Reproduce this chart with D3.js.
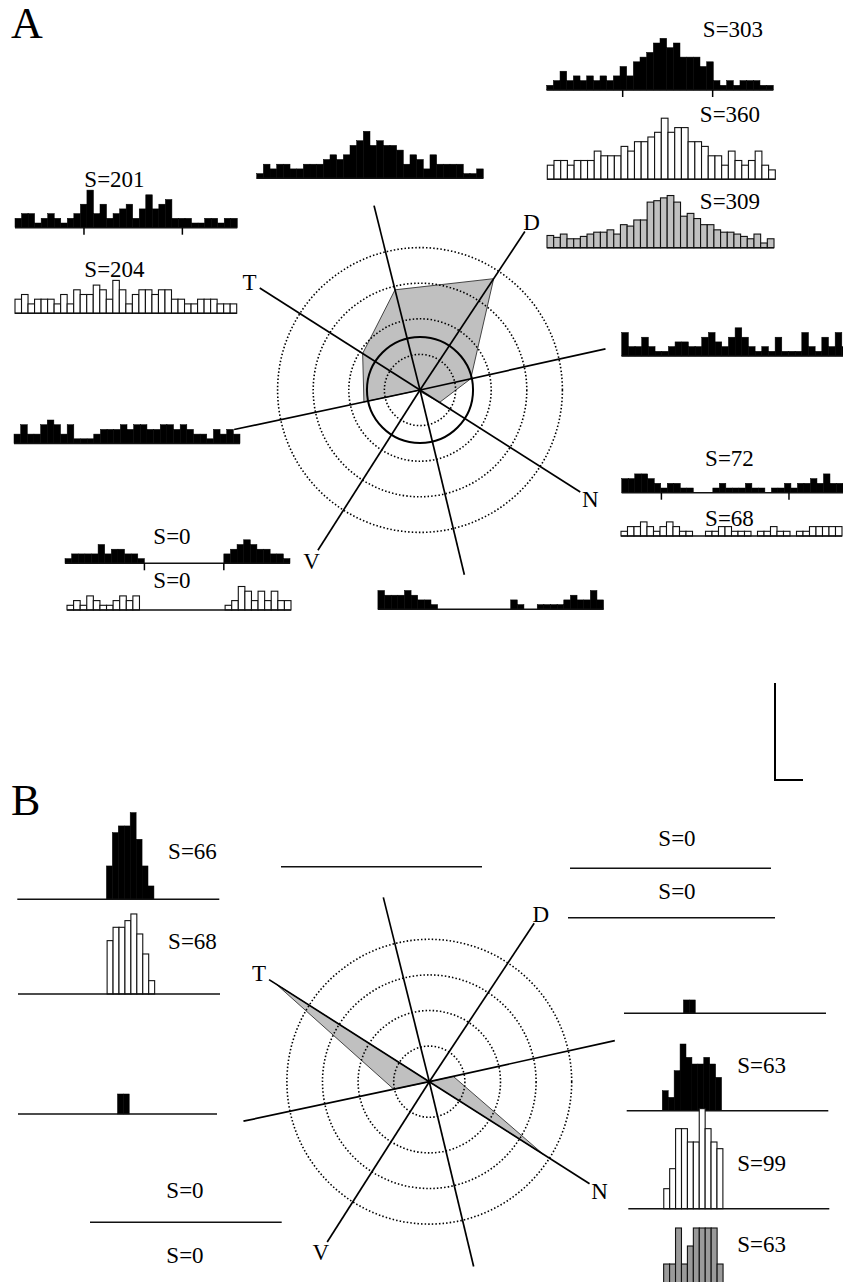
<!DOCTYPE html>
<html>
<head>
<meta charset="utf-8">
<script src="https://cdn.jsdelivr.net/npm/d3@7"></script>
<style>
  body { margin: 0; background: #fff; }
  svg { display: block; font-family: "Liberation Serif", "Times New Roman", serif; }
</style>
</head>
<body>
<svg width="843" height="1282"></svg>
<script>
// stimulus directions, degrees counter-clockwise from the right
const dirNames = ["R", "D", "U", "T", "L", "V", "B", "N"];
const dirAngles = [12.5, 56.5, 104, 147.5, 192, 237.5, 283.5, 327.5];
const axisNames = ["D", "T", "N", "V"];

// polar responses (ring units), same order as dirNames
const polarA = [1.46, 3.75, 2.9, 1.91, 1.61, 0, 0.05, 0.65];
const polarB = [0.69, 0, 0, 5.1, 1.02, 0, 0, 3.8];
const spontA = 1.49;
const ringLevels = [1, 2, 3, 4];

// ---- panel A histograms (34 bins each) ----
const hA_D_black = [1,2,4,2,3,2,3,2,3,2,3,5,3,6,7,8,10,11,9,10,7,7,7,5,6,2,1,2,1,2,2,2,1,1];
const hA_D_white = [3,4,4,3,4,4,4,6,5,5,5,7,6,8,8,9,10,13,10,11,11,8,8,7,5,5,3,6,4,3,4,6,3,2];
const hA_D_gray = [2.6,2.2,2.9,1.9,1.9,2.4,2.9,3.3,3.3,3.8,2.9,4.9,4.6,5.9,5.9,9.7,10,10.6,11.1,9.7,6.7,7.3,6.2,4.9,4.9,3.8,3.3,3.3,2.9,2.4,1.9,2.9,1.0,1.9];
const hA_U_black = [1,3,2,3,3,2,2,3,3,3,4,5,4,5,7,8,10,7,8,7,7,6,3,5,4,2,5,3,3,3,3,1,1,2];
const hA_T_black = [2,3,3,1,2,3,2,1,2,3,5,8,3,5,2,3,4,5,2,4,7,4,5,6,2,2,2,1,1,2,2,1,2,2];
const hA_T_white = [3,4,2,3,3,3,2,4,2,5,4,4,6,5,3,7,5,2,4,5,5,4,5,5,3,3,2,2,3,3,3,2,2,2];
const hA_L_black = [2,4,2,2,4,5,4,2,4,1,1,1,2,3,3,3,4,3,4,4,3,3,4,4,3,4,3,2,2,1,3,2,3,2];
const hA_R_black = [5,2,2,4,2,1,1,2,3,3,2,2,4,5,3,2,4,6,4,2,1,2,1,4,1,1,1,5,2,1,4,2,5,2];
const hA_N_black = [3,3,4,4,3,2,1,2,2,1,1,0,0,0,1,2,1,1,1,2,1,1,0,1,1,2,1,2,2,3,2,4,2,2];
const hA_N_white = [1,2,2,3,2,1,2,3,2,1,1,0,0,1,1,2,2,1,1,1,0,1,1,2,1,1,0,1,1,2,2,2,2,2];
const hA_B_black = [4,3,3,3,4,3,2,2,1,0,0,0,0,0,0,0,0,0,0,0,2,1,0,0,1,1,1,1,2,3,2,2,4,2];
const hA_V_black = [1,2,2,2,2,4,2,3,3,2,2,1,0,0,0,0,0,0,0,0,0,0,0,0,2,3,4,5,4,3,3,2,2,1];
const hA_V_white = [1,2,1,3,2,1,1,2,3,2,3,0,0,0,0,0,0,0,0,0,0,0,0,0,1,2,5,4,2,4,2,4,2,2];

// ---- panel B histograms (spikes per bin) ----
const hB_T_black = [0,0,0,0,0,0,0,0,0,0,0,0,0,0,0,5,10,11,11,13,9,5,2,0,0,0,0,0,0,0,0,0,0,0];
const hB_T_white = [0,0,0,0,0,0,0,0,0,0,0,0,0,0,0,8,10,10,11,12,9,6,2,0,0,0,0,0,0,0,0,0,0,0];
const hB_L_black = [0,0,0,0,0,0,0,0,0,0,0,0,0,0,0,0,0,3,3,0,0,0,0,0,0,0,0,0,0,0,0,0,0,0];
const hB_U_black = new Array(34).fill(0);
const hB_D_black = new Array(34).fill(0);
const hB_D_white = new Array(34).fill(0);
const hB_R_black = [0,0,0,0,0,0,0,0,0,0,2,2,0,0,0,0,0,0,0,0,0,0,0,0,0,0,0,0,0,0,0,0,0,0];
const hB_N_black = [0,0,0,0,0,0,3,2,6,10,8,7,7,8,7,5,0,0,0,0,0,0,0,0,0,0,0,0,0,0,0,0,0,0];
const hB_N_white = [0,0,0,0,0,0,3,6,12,12,10,10,15,12,10,9,0,0,0,0,0,0,0,0,0,0,0,0,0,0,0,0,0,0];
const hB_N_gray = [0,0,0,0,0,0,6.4,6.4,11.8,6.4,9.1,11.8,11.8,11.8,11.8,6.4,0,0,0,0,0,0,0,0,0,0,0,0,0,0,0,0,0,0];
const hB_V_black = new Array(34).fill(0);
const hB_V_white = new Array(34).fill(0);

// spike totals printed beside the histograms
const totalsA = {D: [303, 360, 309], T: [201, 204], N: [72, 68], V: [0, 0]};
const totalsB = {T: [66, 68], D: [0, 0], N: [63, 99, 63], V: [0, 0]};

const svg = d3.select("svg");
svg.append("rect").attr("width", 843).attr("height", 1282).attr("fill", "#fff");

const fills = {black: "#000", white: "#fff", gray: "#c0c0c0", gray2: "#9a9a9a"};

function drawHist(g, h, pxPerCount) {
    const n = h.v.length;
    const x = d3.scaleLinear().domain([0, n]).range([h.x0, h.x1]);
    const y = d3.scaleLinear().domain([0, 1]).range([h.y, h.y - pxPerCount]);
    const bins = h.v.map((c, i) => ({c, i})).filter(d => d.c > 0);

    g.selectAll(null)
        .data(bins)
        .join("rect")
        .attr("x", d => x(d.i))
        .attr("width", d => x(d.i + 1) - x(d.i))
        .attr("y", d => y(d.c))
        .attr("height", d => h.y - y(d.c))
        .attr("fill", fills[h.kind])
        .attr("stroke", h.kind === "black" ? "#000" : "#111")
        .attr("stroke-width", h.kind === "black" ? 0.5 : 1.1);

    // baseline
    g.append("line")
        .attr("x1", h.x0).attr("x2", h.x1)
        .attr("y1", h.y).attr("y2", h.y)
        .attr("stroke", "#111")
        .attr("stroke-width", 1.4);

    // stimulus window ticks
    (h.ticks || []).forEach(t => {
        g.append("line")
            .attr("x1", x(t)).attr("x2", x(t))
            .attr("y1", h.y).attr("y2", h.y + 7)
            .attr("stroke", "#000")
            .attr("stroke-width", 1.5);
    });

    if (h.s !== undefined) {
        g.append("text")
            .attr("x", h.lx).attr("y", h.ly)
            .attr("text-anchor", "middle")
            .style("font-size", "23px")
            .text("S=" + h.s);
    }
}

function drawPolar(g, p) {
    const r = d3.scaleLinear().domain([0, 4]).range([0, 4 * p.unit]);
    const rad = a => a * Math.PI / 180;
    const pts = p.values.map((v, i) => ({a: dirAngles[i], v}));

    // response polygon
    const radial = d3.lineRadial()
        .angle(d => Math.PI / 2 - rad(d.a))
        .radius(d => r(d.v))
        .curve(d3.curveLinearClosed);
    g.append("path")
        .attr("transform", `translate(${p.cx},${p.cy})`)
        .attr("d", radial(pts))
        .attr("fill", "#c0c0c0")
        .attr("stroke", "#333")
        .attr("stroke-width", 0.9);

    // dotted rings
    g.selectAll(null)
        .data(ringLevels)
        .join("circle")
        .attr("cx", p.cx).attr("cy", p.cy)
        .attr("r", d => r(d))
        .attr("fill", "none")
        .attr("stroke", "#000")
        .attr("stroke-width", 1.6)
        .attr("stroke-dasharray", "1.5 2.1");

    // spontaneous level
    if (p.spont) {
        g.append("circle")
            .attr("cx", p.cx).attr("cy", p.cy)
            .attr("r", r(p.spont))
            .attr("fill", "none")
            .attr("stroke", "#000")
            .attr("stroke-width", 2);
    }

    // direction rays
    g.selectAll(null)
        .data(dirAngles)
        .join("line")
        .attr("x1", p.cx).attr("y1", p.cy)
        .attr("x2", a => p.cx + p.rayLen * Math.cos(rad(a)))
        .attr("y2", a => p.cy - p.rayLen * Math.sin(rad(a)))
        .attr("stroke", "#000")
        .attr("stroke-width", 1.7);

    // axis letters
    axisNames.forEach(name => {
        const a = rad(dirAngles[dirNames.indexOf(name)]);
        const R = p.rayLen + 12;
        g.append("text")
            .attr("x", p.cx + R * Math.cos(a))
            .attr("y", p.cy - R * Math.sin(a))
            .attr("text-anchor", "middle")
            .attr("dy", "0.36em")
            .style("font-size", "23px")
            .text(name);
    });
}

// ---------------- Panel A ----------------
const gA = svg.append("g");
const histA = [
    {v: hA_D_black, kind: "black", x0: 546.7, x1: 773.3, y: 90, s: totalsA.D[0], lx: 733, ly: 37, ticks: [11.4, 24.9]},
    {v: hA_D_white, kind: "white", x0: 547.3, x1: 775.3, y: 179.3, s: totalsA.D[1], lx: 730, ly: 121.5},
    {v: hA_D_gray, kind: "gray", x0: 547, x1: 774, y: 247.7, s: totalsA.D[2], lx: 730, ly: 208.5},
    {v: hA_U_black, kind: "black", x0: 256.7, x1: 483.3, y: 178.3},
    {v: hA_T_black, kind: "black", x0: 15, x1: 237.3, y: 227.7, s: totalsA.T[0], lx: 114.5, ly: 186.5, ticks: [10.55, 25.6]},
    {v: hA_T_white, kind: "white", x0: 15, x1: 236.7, y: 313.3, s: totalsA.T[1], lx: 114.5, ly: 276.5},
    {v: hA_L_black, kind: "black", x0: 14, x1: 240, y: 443.5},
    {v: hA_R_black, kind: "black", x0: 621.7, x1: 848.5, y: 356},
    {v: hA_N_black, kind: "black", x0: 621.7, x1: 843, y: 492.7, s: totalsA.N[0], lx: 729.5, ly: 466, ticks: [6.1, 25.7]},
    {v: hA_N_white, kind: "white", x0: 621, x1: 842, y: 536, s: totalsA.N[1], lx: 729.5, ly: 526},
    {v: hA_B_black, kind: "black", x0: 377.9, x1: 603.6, y: 609.3},
    {v: hA_V_black, kind: "black", x0: 65, x1: 290, y: 563.3, s: totalsA.V[0], lx: 172, ly: 544, ticks: [12, 24]},
    {v: hA_V_white, kind: "white", x0: 67, x1: 291, y: 610, s: totalsA.V[1], lx: 172, ly: 588}
];
drawPolar(gA, {cx: 420, cy: 390, unit: 35.6, rayLen: 190, values: polarA, spont: spontA});
histA.forEach(h => drawHist(gA, h, 4.7));

gA.append("text").attr("x", 11).attr("y", 38).style("font-size", "44px").text("A");

// scale bar
gA.append("path")
    .attr("d", "M775,683V780H803")
    .attr("fill", "none")
    .attr("stroke", "#000")
    .attr("stroke-width", 2);

// ---------------- Panel B ----------------
const gB = svg.append("g");
const histB = [
    {v: hB_T_black, kind: "black", x0: 17.3, x1: 219.3, y: 899.3, s: totalsB.T[0], lx: 192.5, ly: 859},
    {v: hB_T_white, kind: "white", x0: 18, x1: 220, y: 994, s: totalsB.T[1], lx: 192.5, ly: 949},
    {v: hB_L_black, kind: "black", x0: 18, x1: 217, y: 1114},
    {v: hB_U_black, kind: "black", x0: 281, x1: 482, y: 866.7},
    {v: hB_D_black, kind: "black", x0: 570, x1: 771, y: 868.3, s: totalsB.D[0], lx: 677, ly: 846},
    {v: hB_D_white, kind: "white", x0: 568, x1: 775, y: 917.7, s: totalsB.D[1], lx: 677, ly: 899},
    {v: hB_R_black, kind: "black", x0: 624, x1: 826, y: 1013.3},
    {v: hB_N_black, kind: "black", x0: 626.7, x1: 828.3, y: 1110.7, s: totalsB.N[0], lx: 761.7, ly: 1073},
    {v: hB_N_white, kind: "white", x0: 628.3, x1: 829.3, y: 1208.7, s: totalsB.N[1], lx: 761.7, ly: 1171},
    {v: hB_N_gray, kind: "gray2", x0: 628, x1: 830, y: 1306.7, s: totalsB.N[2], lx: 761.7, ly: 1252},
    {v: hB_V_black, kind: "black", x0: 90, x1: 281.7, y: 1222.3, s: totalsB.V[0], lx: 185, ly: 1198},
    {v: hB_V_white, kind: "white", x0: 90, x1: 281.7, y: 1290, s: totalsB.V[1], lx: 185, ly: 1263}
];
drawPolar(gB, {cx: 429.3, cy: 1081.7, unit: 35.6, rayLen: 190, values: polarB});
histB.forEach(h => drawHist(gB, h, 6.67));

gB.append("text").attr("x", 11).attr("y", 815).style("font-size", "44px").text("B");
</script>
</body>
</html>
